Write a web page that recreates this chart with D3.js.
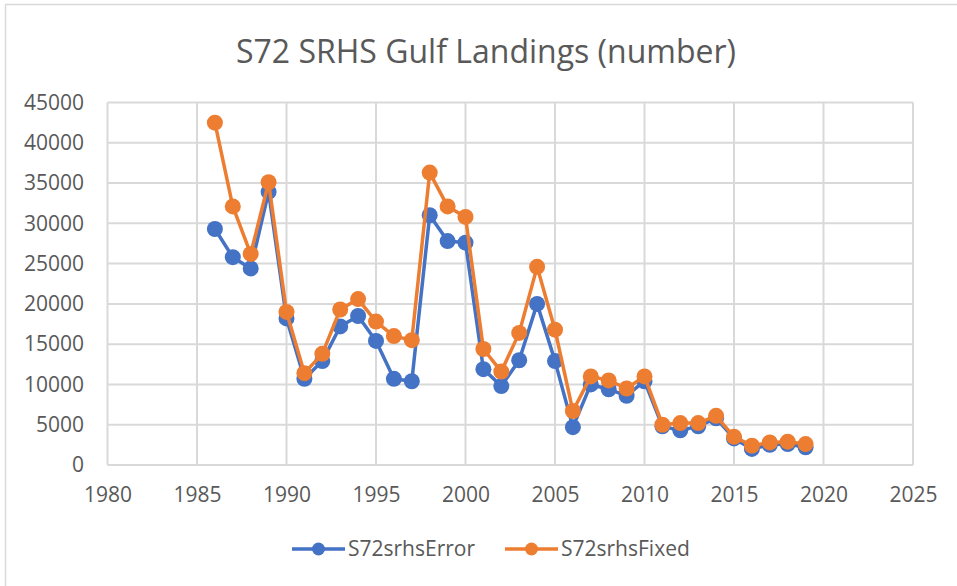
<html>
<head>
<meta charset="utf-8">
<script src="https://d3js.org/d3.v7.min.js"></script>
<style>
body { margin: 0; background: #fff; }
text { font-family: "Open Sans", sans-serif; fill: #595959; }
</style>
</head>
<body>
<svg width="957" height="586"></svg>
<script>
// data
var years = [1986,1987,1988,1989,1990,1991,1992,1993,1994,1995,1996,1997,1998,1999,2000,2001,2002,
             2003,2004,2005,2006,2007,2008,2009,2010,2011,2012,2013,2014,2015,2016,2017,2018,2019];
var errorVals = [29300,25800,24400,33900,18200,10700,12900,17200,18500,15400,10700,10400,31000,27800,27600,11900,9800,
                 13000,20000,12900,4700,10000,9400,8600,10400,4800,4300,4800,5800,3300,2000,2500,2600,2200];
var fixedVals = [42500,32100,26200,35100,19000,11400,13800,19300,20600,17800,16000,15500,36300,32100,30800,14400,11600,
                 16400,24600,16800,6700,11000,10500,9500,11000,5000,5200,5200,6100,3500,2400,2800,2900,2600];
var xTicks = [1980,1985,1990,1995,2000,2005,2010,2015,2020,2025];
var yTicks = [0,5000,10000,15000,20000,25000,30000,35000,40000,45000];
var seriesNames = ["S72srhsError","S72srhsFixed"];
var colors = ["#4472C4","#ED7D31"];

var svg = d3.select("svg");

// chart frame
svg.append("rect")
    .attr("x",5.5).attr("y",4.5).attr("width",960).attr("height",600)
    .attr("fill","none").attr("stroke","#d9d9d9").attr("stroke-width",1.5);

var x = d3.scaleLinear().domain([1980,2025]).range([107.5,913]);
var y = d3.scaleLinear().domain([0,45000]).range([465,102.5]);

// gridlines
svg.append("g").selectAll("line").data(yTicks).enter().append("line")
    .attr("x1",x(1980)).attr("x2",x(2025))
    .attr("y1",function(d){return y(d);}).attr("y2",function(d){return y(d);})
    .attr("stroke","#d9d9d9").attr("stroke-width",2);
svg.append("g").selectAll("line").data(xTicks).enter().append("line")
    .attr("x1",function(d){return x(d);}).attr("x2",function(d){return x(d);})
    .attr("y1",y(0)).attr("y2",y(45000))
    .attr("stroke","#d9d9d9").attr("stroke-width",2);

// axes labels
var yAxis = svg.append("g")
    .attr("transform","translate("+84+",0)")
    .call(d3.axisLeft(y).tickValues(yTicks).tickSize(0).tickPadding(0).tickFormat(d3.format("d")));
yAxis.select(".domain").remove();
yAxis.selectAll("text").style("font-size","21px").attr("fill","#595959");

var xAxis = svg.append("g")
    .attr("transform","translate(0,"+484+")")
    .call(d3.axisBottom(x).tickValues(xTicks).tickSize(0).tickPadding(3).tickFormat(d3.format("d")));
xAxis.select(".domain").remove();
xAxis.selectAll("text").style("font-size","21px").attr("fill","#595959");

// title
svg.append("text")
    .attr("x",486).attr("y",63)
    .attr("text-anchor","middle")
    .style("font-size","32px")
    .text("S72 SRHS Gulf Landings (number)");

// series
var series = [errorVals, fixedVals];
var line = d3.line()
    .x(function(d,i){return x(years[i]);})
    .y(function(d){return y(d);});

series.forEach(function(vals,k) {
    svg.append("path")
        .datum(vals)
        .attr("d",line)
        .attr("fill","none")
        .attr("stroke",colors[k])
        .attr("stroke-width",3.5)
        .attr("stroke-linejoin","round");
    svg.append("g").selectAll("circle").data(vals).enter().append("circle")
        .attr("cx",function(d,i){return x(years[i]);})
        .attr("cy",function(d){return y(d);})
        .attr("r",8)
        .attr("fill",colors[k]);
});

// legend
var legendX = [292,505];
seriesNames.forEach(function(name,k) {
    var g = svg.append("g").attr("transform","translate("+legendX[k]+","+549+")");
    g.append("line").attr("x1",0).attr("x2",53).attr("y1",0).attr("y2",0)
        .attr("stroke",colors[k]).attr("stroke-width",3.5);
    g.append("circle").attr("cx",26.5).attr("cy",0).attr("r",6.5).attr("fill",colors[k]);
    g.append("text").attr("x",56).attr("y",0).attr("dy","0.35em")
        .style("font-size","21px").text(name);
});
</script>
</body>
</html>
